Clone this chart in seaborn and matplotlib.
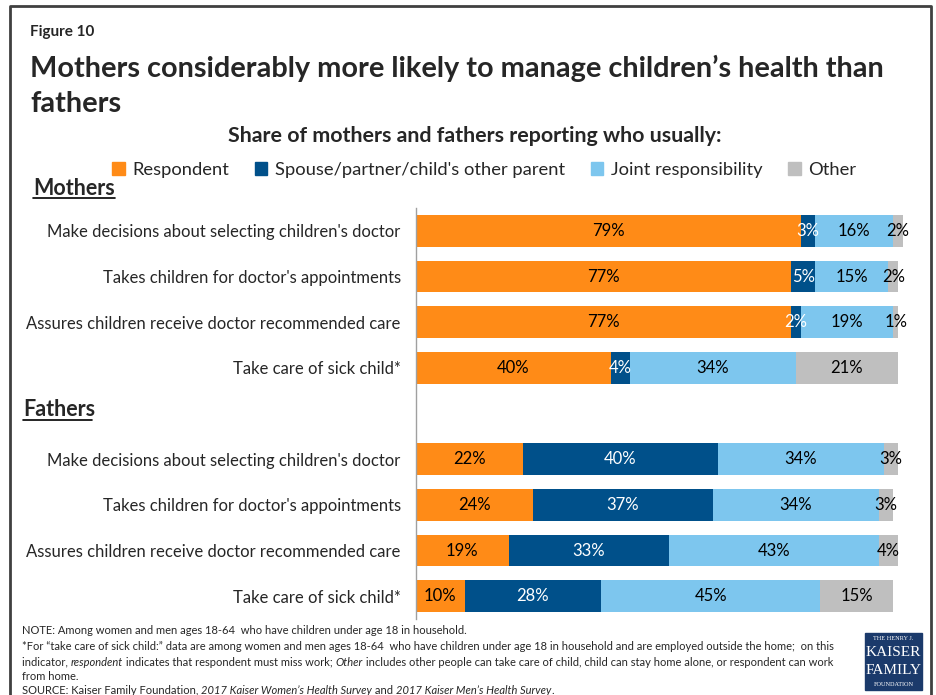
import numpy as np
import pandas as pd
import matplotlib.pyplot as plt
import seaborn as sns
from matplotlib.patches import Rectangle
from matplotlib.lines import Line2D

sns.set_style("white")
plt.rcParams['font.family'] = ['Lato', 'DejaVu Sans']

items = ["Make decisions about selecting children's doctor",
         "Takes children for doctor's appointments",
         "Assures children receive doctor recommended care",
         "Take care of sick child*"]
series = ["Respondent", "Spouse/partner/child's other parent", "Joint responsibility", "Other"]
colors = ["#FF8B17", "#00508A", "#7DC6EE", "#BFBFBF"]
text_colors = ["black", "white", "black", "black"]

mothers_respondent = [79, 77, 77, 40]
mothers_spouse = [3, 5, 2, 4]
mothers_joint = [16, 15, 19, 34]
mothers_other = [2, 2, 1, 21]

fathers_respondent = [22, 24, 19, 10]
fathers_spouse = [40, 37, 33, 28]
fathers_joint = [34, 34, 43, 45]
fathers_other = [3, 3, 4, 15]

rows = []
for group, vals in [("M", [mothers_respondent, mothers_spouse, mothers_joint, mothers_other]),
                    ("F", [fathers_respondent, fathers_spouse, fathers_joint, fathers_other])]:
    for i, item in enumerate(items):
        r = {"key": group + str(i), "item": item}
        for s, v in zip(series, vals):
            r[s] = v[i]
        rows.append(r)
df = pd.DataFrame(rows)
order = ["M0", "M1", "M2", "M3", "gap", "F0", "F1", "F2", "F3"]

cum = df[series].cumsum(axis=1)

fig = plt.figure(figsize=(9.36, 6.95), dpi=100)
ax = fig.add_axes([416 / 936, 1 - 619 / 695, 487 / 936, 411 / 695])

# stacked bars: draw cumulative totals from the outside in
for k in range(len(series) - 1, -1, -1):
    d = pd.DataFrame({"key": df["key"], "val": cum[series[k]]})
    sns.barplot(data=d, x="val", y="key", order=order, orient="h", color=colors[k],
                saturation=1, width=0.7, linewidth=0, ax=ax)

pos = {k: i for i, k in enumerate(order)}
for _, r in df.iterrows():
    y = pos[r["key"]]
    start = 0
    for s, tc in zip(series, text_colors):
        v = r[s]
        ax.text(start + v / 2, y, f"{v}%", ha="center", va="center", fontsize=12, color=tc)
        start += v

ax.set_xlim(0, 100)
ax.set_ylim(8.5, -0.5)
ax.set_xticks([])
ax.set_xlabel("")
ax.set_ylabel("")
labels = [items[0], items[1], items[2], items[3], "", items[0], items[1], items[2], items[3]]
ax.set_yticks(range(len(order)))
ax.set_yticklabels(labels, fontsize=12)
ax.tick_params(axis="y", length=0, pad=11)
for sp in ["top", "right", "bottom"]:
    ax.spines[sp].set_visible(False)
ax.spines["left"].set_color("#A0A0A0")
ax.spines["left"].set_linewidth(1)

# titles
fig.text(30 / 936, 1 - 32 / 695, "Figure 10", fontsize=11, fontweight="bold", va="center")
fig.text(30 / 936, 1 - 68 / 695, "Mothers considerably more likely to manage children\u2019s health than",
         fontsize=20.8, fontweight="bold", va="center")
fig.text(30 / 936, 1 - 104 / 695, "fathers", fontsize=20.8, fontweight="bold", va="center")
fig.text(475 / 936, 1 - 136 / 695, "Share of mothers and fathers reporting who usually:",
         fontsize=15.4, fontweight="bold", va="center", ha="center")

handles = [Rectangle((0, 0), 1, 1, color=c) for c in colors]
fig.legend(handles, series, loc="center", bbox_to_anchor=(484 / 936, 1 - 170 / 695), ncol=4,
           frameon=False, fontsize=13.2, handlelength=0.7, handleheight=0.7,
           handletextpad=0.4, columnspacing=1.4)

# group labels, underlined
for name, x0, x1, yc, yu in [("Mothers", 33, 115, 188, 198), ("Fathers", 23, 92, 410, 420)]:
    fig.text(x0 / 936, 1 - yc / 695, name, fontsize=15.5, fontweight="bold", va="center")
    fig.add_artist(Line2D([x0 / 936, x1 / 936], [1 - yu / 695, 1 - yu / 695], color="black", lw=1.2))

# footnotes with mixed italics
fig.canvas.draw()
renderer = fig.canvas.get_renderer()


def rich_line(x, y, parts, size=8):
    for txt, st in parts:
        t = fig.text(x / 936, 1 - y / 695, txt, fontsize=size, style=st, va="center")
        bb = t.get_window_extent(renderer)
        x = bb.x1


note_lines = [
    [("NOTE: Among women and men ages 18-64  who have children under age 18 in household.", "normal")],
    [("*For \u201ctake care of sick child:\u201d data are among women and men ages 18-64  who have children under age 18 "
      "in household and are employed outside the home;  on this", "normal")],
    [("indicator, ", "normal"), ("respondent", "italic"), (" indicates that respondent must miss work; ", "normal"),
     ("Other", "italic"), (" includes other people can take care of child, child can stay home alone, or respondent can work",
                           "normal")],
    [("from home.", "normal")],
    [("SOURCE: Kaiser Family Foundation, ", "normal"), ("2017 Kaiser Women\u2019s Health Survey", "italic"),
     (" and ", "normal"), ("2017 Kaiser Men\u2019s Health Survey", "italic"), (".", "normal")],
]
for yy, parts in zip([630, 646, 662, 677, 691], note_lines):
    rich_line(22, yy, parts)

# logo
fig.add_artist(Rectangle((865 / 936, 1 - 690 / 695), 57 / 936, 57 / 695, color="#1B3A6B",
                         transform=fig.transFigure))
lx = 893.5 / 936
fig.text(lx, 1 - 639 / 695, "THE HENRY J.", fontsize=4.5, color="white", ha="center", va="center",
         family="Liberation Serif")
fig.text(lx, 1 - 653 / 695, "KAISER", fontsize=11, color="white", ha="center", va="center",
         family="Liberation Serif")
fig.text(lx, 1 - 670 / 695, "FAMILY", fontsize=11, color="white", ha="center", va="center",
         family="Liberation Serif")
fig.text(lx, 1 - 684 / 695, "FOUNDATION", fontsize=4.5, color="white", ha="center", va="center",
         family="Liberation Serif")

# outer frame
fig.add_artist(Line2D([10 / 936, 10 / 936, 931 / 936, 931 / 936], [0, 1 - 6 / 695, 1 - 6 / 695, 0],
                      color="#404040", lw=2))

fig.savefig("out.png", dpi=100)
